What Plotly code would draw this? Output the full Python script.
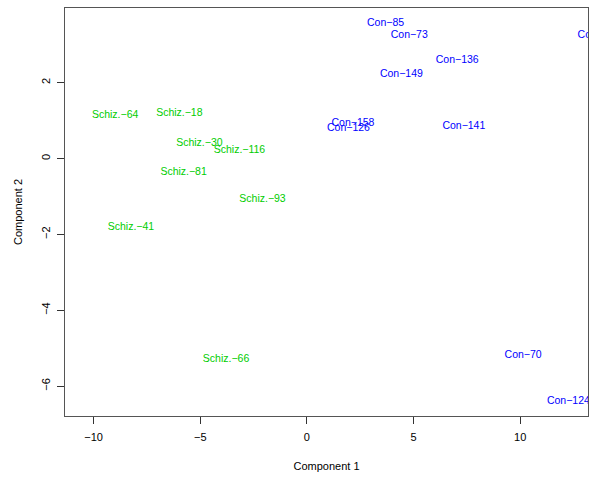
import plotly.graph_objects as go

# Data: label positions (Component 1, Component 2)
schiz_labels = ["Schiz.−64", "Schiz.−18", "Schiz.−30", "Schiz.−116", "Schiz.−81",
                "Schiz.−93", "Schiz.−41", "Schiz.−66"]
schiz_x = [-8.99, -5.98, -5.04, -3.16, -5.78, -2.08, -8.25, -3.79]
schiz_y = [1.13, 1.19, 0.41, 0.22, -0.36, -1.07, -1.81, -5.30]

con_labels = ["Con−85", "Con−73", "Con−80", "Con−136", "Con−149", "Con−158",
              "Con−126", "Con−141", "Con−70", "Con−124"]
con_x = [3.69, 4.80, 13.56, 7.05, 4.43, 2.16, 1.95, 7.36, 10.14, 12.26]
con_y = [3.57, 3.26, 3.26, 2.60, 2.22, 0.93, 0.80, 0.84, -5.18, -6.40]

x_ticks = [-10, -5, 0, 5, 10]
y_ticks = [-6, -4, -2, 0, 2]

FONT = "Liberation Sans, Arial, Helvetica, sans-serif"

fig = go.Figure()
fig.add_trace(go.Scatter(x=schiz_x, y=schiz_y, text=schiz_labels, mode="text",
                         textposition="middle center", cliponaxis=True,
                         textfont=dict(color="#00CD00", size=10.5, family=FONT),
                         showlegend=False, hoverinfo="text"))
fig.add_trace(go.Scatter(x=con_x, y=con_y, text=con_labels, mode="text",
                         textposition="middle center", cliponaxis=True,
                         textfont=dict(color="#0000FF", size=10.5, family=FONT),
                         showlegend=False, hoverinfo="text"))

# white mask so labels stay clipped at the right edge of the plot box
fig.add_shape(type="rect", xref="paper", yref="paper", x0=1.002, x1=1.05,
              y0=-0.02, y1=1.02, fillcolor="white", line=dict(width=0), layer="above")

axis_common = dict(showgrid=False, zeroline=False, showline=True, mirror=True,
                   linecolor="#555555", linewidth=1, ticks="outside", ticklen=7,
                   tickcolor="#333333", tickwidth=1, automargin=False,
                   tickfont=dict(size=11, family=FONT, color="black"))

fig.update_layout(
    width=600, height=478,
    margin=dict(l=65, r=12, t=8, b=62),
    paper_bgcolor="white", plot_bgcolor="white",
    font=dict(family=FONT, color="black"),
    xaxis=dict(range=[-11.34, 13.18], tickvals=x_ticks,
               ticktext=[str(v).replace("-", "−") for v in x_ticks],
               ticklabelstandoff=4,
               title=dict(text="Component 1", font=dict(size=11, family=FONT), standoff=20),
               **axis_common),
    yaxis=dict(range=[-6.79, 3.97], tickvals=y_ticks,
               ticktext=[str(v).replace("-", "−") for v in y_ticks],
               tickangle=-90, ticklabelstandoff=3,
               title=dict(text="Component 2", font=dict(size=11, family=FONT), standoff=14),
               **axis_common),
)

fig.write_html("out.html", config={"displayModeBar": False},
               post_script="document.body.style.margin='0';")
